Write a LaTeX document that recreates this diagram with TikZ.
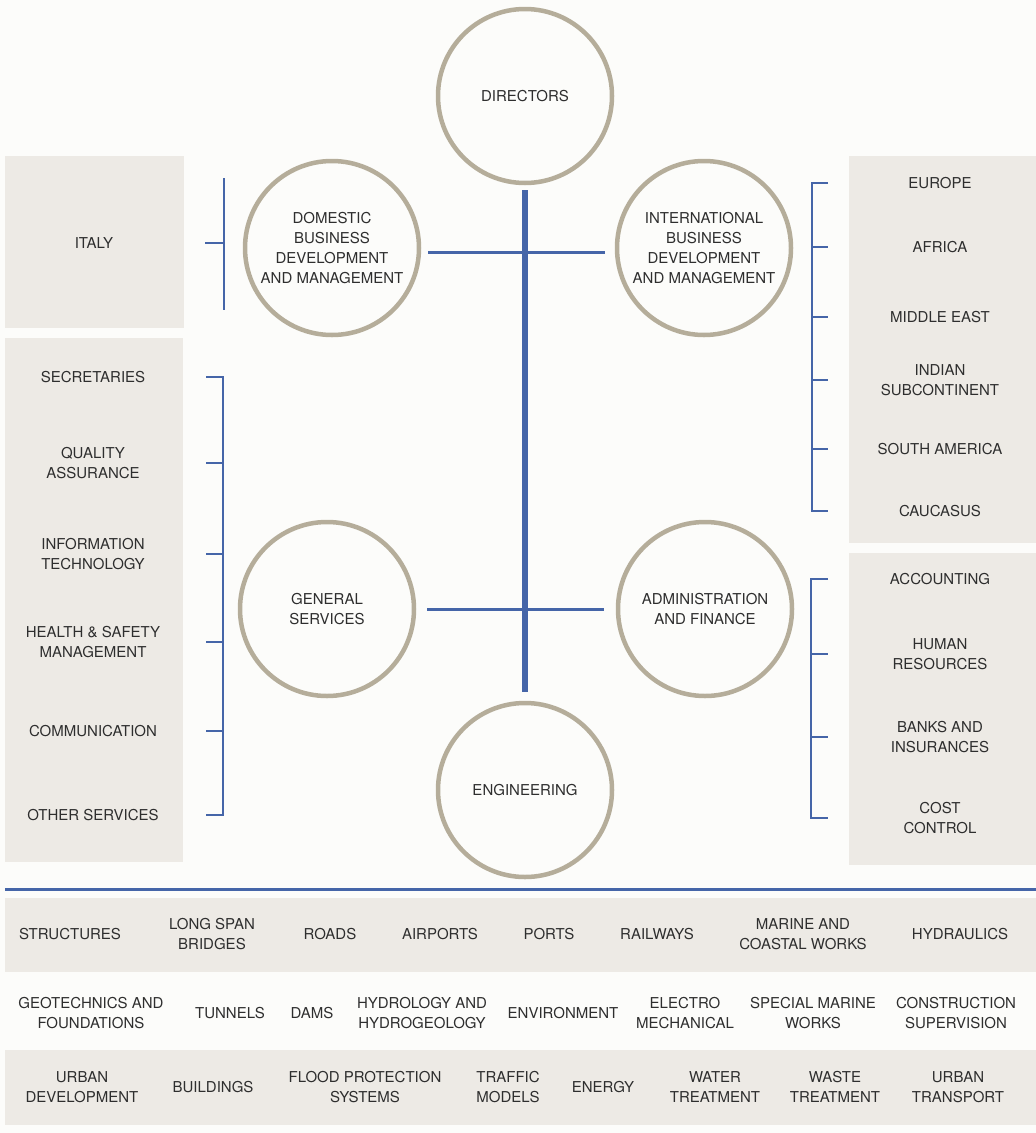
\documentclass[tikz,border=0pt]{standalone}
\usepackage{fontspec}
\setmainfont{TeX Gyre Heros}
\definecolor{colorbg}{HTML}{FCFCFA}
\definecolor{colorbox}{HTML}{EDEAE5}
\definecolor{colorring}{HTML}{B5AD9A}
\definecolor{colorline}{HTML}{4565A8}
\definecolor{colortext}{HTML}{2E2E2E}
\tikzset{
    unit/.style={circle, draw=colorring, line width=4.5pt, fill=colorbg,
        minimum size=174pt, inner sep=0pt, align=center, text=colortext},
    item/.style={align=center, text=colortext, inner sep=0pt},
    trunk/.style={draw=colorline, line width=6pt},
    branch/.style={draw=colorline, line width=3pt},
    bracket/.style={draw=colorline, line width=2.6pt}
}

\begin{document}
\begin{tikzpicture}[x=1pt, y=-1pt, font=\fontsize{15}{20}\selectfont]
        \path[use as bounding box, fill=colorbg] (0,0) rectangle (1036,1133);

        % grey panels
        \fill[colorbox] (5,156) rectangle (184,328);
        \fill[colorbox] (5,338) rectangle (183,862);
        \fill[colorbox] (849,156) rectangle (1036,543);
        \fill[colorbox] (849,553) rectangle (1036,865);
        \fill[colorbox] (5,898) rectangle (1036,972);
        \fill[colorbox] (5,1050) rectangle (1036,1125);

        % units
        \node[unit] (dir) at (525,96) {DIRECTORS};
        \node[unit] (dom) at (332,248) {DOMESTIC\\BUSINESS\\DEVELOPMENT\\AND MANAGEMENT};
        \node[unit] (int) at (704,248) {INTERNATIONAL\\BUSINESS\\DEVELOPMENT\\AND MANAGEMENT};
        \node[unit] (gen) at (327,609) {GENERAL\\SERVICES};
        \node[unit] (adm) at (705,609) {ADMINISTRATION\\AND FINANCE};
        \node[unit] (eng) at (525,790) {ENGINEERING};

        \draw[trunk, shorten <=5pt, shorten >=9pt] (dir) -- (eng);
        \draw[branch, shorten <=7pt, shorten >=10pt] (dom.-3) -- (int.183);
        \draw[branch, shorten <=11pt, shorten >=12pt] (gen) -- (adm);

        % domestic
        \node[item] (ita) at (94,243) {ITALY};
        \draw[bracket] (224,178) -- (224,310);
        \draw[bracket] (205,0 |- ita) -- (224,0 |- ita);

        % international
        \foreach \n/\y/\t in {eu/183/EUROPE, af/247/AFRICA, me/317/MIDDLE EAST,
            ins/380/{INDIAN\\SUBCONTINENT}, sa/449/SOUTH AMERICA, ca/511/CAUCASUS} {
            \node[item] (\n) at (940,\y) {\t};
        }
        \draw[bracket] (828,0 |- eu) -| (812,0 |- ca) -- (828,0 |- ca);
        \foreach \n in {af,me,ins,sa} {
            \draw[bracket] (812,0 |- \n) -- (828,0 |- \n);
        }

        % general services
        \foreach \n/\y/\t in {sec/377/SECRETARIES, qa/463/{QUALITY\\ASSURANCE},
            inf/554/{INFORMATION\\TECHNOLOGY}, hs/642/{HEALTH \& SAFETY\\MANAGEMENT},
            com/731/COMMUNICATION, os/815/OTHER SERVICES} {
            \node[item] (\n) at (93,\y) {\t};
        }
        \draw[bracket] (206,0 |- sec) -| (223,0 |- os) -- (206,0 |- os);
        \foreach \n in {qa,inf,hs,com} {
            \draw[bracket] (206,0 |- \n) -- (223,0 |- \n);
        }

        % administration
        \foreach \n/\y/\t in {acc/579/ACCOUNTING, hr/654/{HUMAN\\RESOURCES},
            bi/737/{BANKS AND\\INSURANCES}, cc/818/{COST\\CONTROL}} {
            \node[item] (\n) at (940,\y) {\t};
        }
        \draw[bracket] (828,0 |- acc) -| (811,0 |- cc) -- (828,0 |- cc);
        \foreach \n in {hr,bi} {
            \draw[bracket] (811,0 |- \n) -- (828,0 |- \n);
        }

        % engineering fields
        \draw[branch] (5,889) -- (1036,889);
        \foreach \x/\t [count=\k] in {70/STRUCTURES, 212/{LONG SPAN\\BRIDGES}, 330/ROADS,
            440/AIRPORTS, 549/PORTS, 657/RAILWAYS, 803/{MARINE AND\\COASTAL WORKS},
            960/HYDRAULICS} {
            \node[item] (fa\k) at (\x,934) {\t};
        }
        \foreach \x/\t [count=\k] in {91/{GEOTECHNICS AND\\FOUNDATIONS}, 230/TUNNELS,
            312/DAMS, 422/{HYDROLOGY AND\\HYDROGEOLOGY}, 563/ENVIRONMENT,
            685/{ELECTRO\\MECHANICAL}, 813/{SPECIAL MARINE\\WORKS},
            956/{CONSTRUCTION\\SUPERVISION}} {
            \node[item] (fb\k) at (\x,1013) {\t};
        }
        \foreach \x/\t [count=\k] in {82/{URBAN\\DEVELOPMENT}, 213/BUILDINGS,
            365/{FLOOD PROTECTION\\SYSTEMS}, 508/{TRAFFIC\\MODELS}, 603/ENERGY,
            715/{WATER\\TREATMENT}, 835/{WASTE\\TREATMENT}, 958/{URBAN\\TRANSPORT}} {
            \node[item] (fc\k) at (\x,1087) {\t};
        }
    \end{tikzpicture}
\end{document}
